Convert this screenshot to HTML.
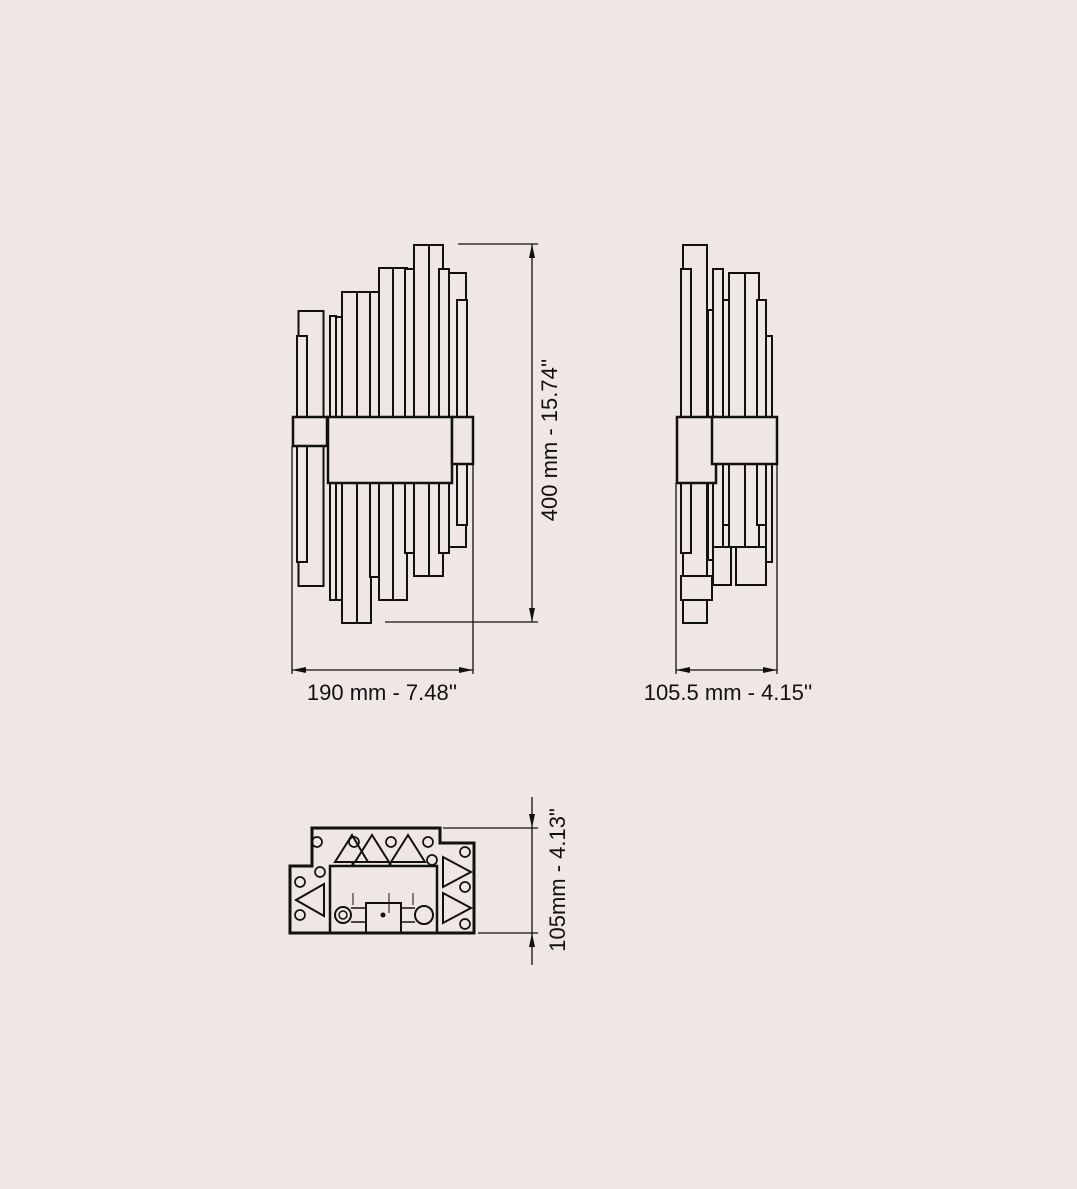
<!DOCTYPE html>
<html><head><meta charset="utf-8"><style>
html,body{margin:0;padding:0;background:#efe7e4;}
svg{display:block}
text{font-family:"Liberation Sans",sans-serif;font-size:22px;fill:#111;}
</style></head><body>
<svg width="1077" height="1189" viewBox="0 0 1077 1189" xmlns="http://www.w3.org/2000/svg">
<rect width="1077" height="1189" fill="#efe7e4"/>
<g fill="#efe7e4" stroke="#111" stroke-width="2">
<rect x="298.5" y="311" width="25" height="275"/>
<rect x="297" y="336" width="10" height="226"/>
<rect x="330" y="316" width="6" height="284"/>
<rect x="336" y="317" width="10" height="283"/>
<rect x="342" y="292" width="15" height="331"/>
<rect x="357" y="292" width="14" height="331"/>
<rect x="370" y="292" width="9" height="285"/>
<rect x="379" y="268" width="14" height="332"/>
<rect x="393" y="268" width="14" height="332"/>
<rect x="405" y="269" width="10" height="284"/>
<rect x="414" y="245" width="15" height="331"/>
<rect x="429" y="245" width="14" height="331"/>
<rect x="439" y="269" width="10" height="284"/>
<rect x="449" y="273" width="17" height="274"/>
<rect x="457" y="300" width="10" height="225"/>
<rect x="293" y="417" width="34" height="29" stroke-width="2.5"/>
<rect x="328" y="417" width="124" height="66" stroke-width="2.5"/>
<rect x="452" y="417" width="21" height="47" stroke-width="2.5"/>

<rect x="683" y="245" width="24" height="378"/>
<rect x="681" y="269" width="10" height="284"/>
<rect x="681" y="576" width="31" height="24"/>
<rect x="713" y="269" width="10" height="284"/>
<rect x="713" y="547" width="18" height="38"/>
<rect x="723" y="300" width="9" height="225"/>
<rect x="736" y="547" width="30" height="38"/>
<rect x="729" y="273" width="16" height="274"/>
<rect x="745" y="273" width="14" height="274"/>
<rect x="757" y="300" width="9" height="225"/>
<rect x="766" y="336" width="6" height="226"/>
<rect x="708" y="310" width="5" height="250"/>
<rect x="677" y="417" width="39" height="66" stroke-width="2.5"/>
<rect x="712" y="417" width="65" height="47" stroke-width="2.5"/>
</g>

<g stroke="#111" stroke-width="1.3" fill="none">
<line x1="292" y1="446" x2="292" y2="674"/>
<line x1="473" y1="464" x2="473" y2="674"/>
<line x1="292" y1="670" x2="473" y2="670"/>
<line x1="458" y1="244" x2="538" y2="244"/>
<line x1="385" y1="622" x2="538" y2="622"/>
<line x1="532" y1="244" x2="532" y2="622"/>
<line x1="676" y1="483" x2="676" y2="674"/>
<line x1="777" y1="464" x2="777" y2="674"/>
<line x1="676" y1="670" x2="777" y2="670"/>
<line x1="443" y1="828" x2="538" y2="828"/>
<line x1="478" y1="933" x2="538" y2="933"/>
<line x1="532" y1="797" x2="532" y2="965"/>
</g>
<g fill="#111">
<polygon points="292,670 306,667 306,673"/>
<polygon points="473,670 459,667 459,673"/>
<polygon points="676,670 690,667 690,673"/>
<polygon points="777,670 763,667 763,673"/>
<polygon points="532,244 529,258 535,258"/>
<polygon points="532,622 529,608 535,608"/>
<polygon points="532,828 529,814 535,814"/>
<polygon points="532,933 529,947 535,947"/>
</g>
<text x="382" y="700" text-anchor="middle">190 mm - 7.48''</text>
<text x="728" y="700" text-anchor="middle">105.5 mm - 4.15''</text>
<text transform="translate(557,440) rotate(-90)" text-anchor="middle">400 mm - 15.74''</text>
<text transform="translate(565,880) rotate(-90)" text-anchor="middle">105mm - 4.13"</text>

<g stroke="#111" fill="none">
<polygon points="312,828 440,828 440,843 474,843 474,933 290,933 290,866 312,866" stroke-width="3"/>
<rect x="330" y="866" width="107" height="67" stroke-width="2.5"/>
<polygon points="352,835 335,862 368,862" stroke-width="2"/>
<polygon points="372,835 355,862 389,862" stroke-width="2"/>
<polygon points="408,835 391,862 425,862" stroke-width="2"/>
<polygon points="296,900 324,884 324,916" stroke-width="2"/>
<polygon points="471,872 443,857 443,887" stroke-width="2"/>
<polygon points="471,908 443,893 443,923" stroke-width="2"/>
<circle cx="317" cy="842" r="5" stroke-width="1.7"/>
<circle cx="354" cy="842" r="5" stroke-width="1.7"/>
<circle cx="391" cy="842" r="5" stroke-width="1.7"/>
<circle cx="428" cy="842" r="5" stroke-width="1.7"/>
<circle cx="432" cy="860" r="5" stroke-width="1.7"/>
<circle cx="320" cy="872" r="5" stroke-width="1.7"/>
<circle cx="300" cy="882" r="5" stroke-width="1.7"/>
<circle cx="300" cy="915" r="5" stroke-width="1.7"/>
<circle cx="465" cy="852" r="5" stroke-width="1.7"/>
<circle cx="465" cy="887" r="5" stroke-width="1.7"/>
<circle cx="465" cy="924" r="5" stroke-width="1.7"/>
<circle cx="343" cy="915" r="8" stroke-width="2"/>
<circle cx="343" cy="915" r="4" stroke-width="1.5"/>
<circle cx="424" cy="915" r="9" stroke-width="2"/>
<rect x="366" y="903" width="35" height="30" stroke-width="2"/>
<line x1="351" y1="908" x2="366" y2="908" stroke-width="1.5"/>
<line x1="351" y1="922" x2="366" y2="922" stroke-width="1.5"/>
<line x1="401" y1="908" x2="415" y2="908" stroke-width="1.5"/>
<line x1="401" y1="922" x2="415" y2="922" stroke-width="1.5"/>
<line x1="353" y1="862" x2="353" y2="866" stroke-width="3"/>
<line x1="390" y1="862" x2="390" y2="866" stroke-width="3"/>
<line x1="353" y1="893" x2="353" y2="905" stroke-width="1"/>
<line x1="389" y1="893" x2="389" y2="913" stroke-width="1"/>
<line x1="413" y1="893" x2="413" y2="905" stroke-width="1"/>
</g>
<circle cx="383" cy="915" r="2.5" fill="#111"/>
</svg>
</body></html>
